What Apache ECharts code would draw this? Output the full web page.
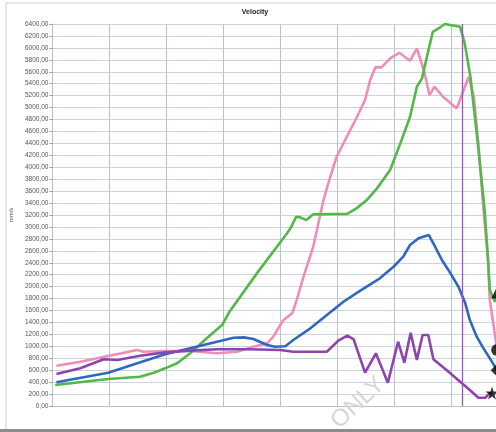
<!DOCTYPE html>
<html><head><meta charset="utf-8">
<script src="https://cdn.jsdelivr.net/npm/echarts@6/dist/echarts.min.js"></script>
<style>html,body{margin:0;padding:0;background:#fff;overflow:hidden}#c{width:508px;height:432px}</style>
</head><body><div id="c"></div>
<script>
// time positions (x-axis units, one per vertical grid line) and velocity values (mm/s)
const greenT = [0.05,0.98,1.54,1.78,1.98,2.19,2.42,2.71,2.98,3.11,3.59,4.12,4.18,4.28,4.35,4.46,4.58,4.97,5.17,5.34,5.52,5.70,5.93,6.11,6.28,6.40,6.49,6.59,6.68,6.78,6.89,7.01,7.16,7.24,7.34,7.47,7.59,7.65,7.68,7.77,7.81];
const greenV = [352,452,490,558,631,715,883,1134,1357,1580,2222,2893,2977,3171,3160,3115,3211,3216,3216,3311,3450,3646,3953,4400,4846,5349,5489,5908,6270,6325,6400,6380,6353,6075,5516,4400,3283,2446,1943,1747,1900];
const pinkT  = [0.07,0.49,0.98,1.49,1.60,1.98,2.42,2.89,3.24,3.53,3.77,3.88,4.00,4.06,4.21,4.29,4.41,4.58,4.76,4.88,4.99,5.17,5.35,5.49,5.58,5.67,5.78,5.93,6.09,6.28,6.40,6.53,6.62,6.71,6.86,7.10,7.21,7.31,7.40,7.48,7.57,7.65,7.68,7.81];
const pinkV  = [675,740,837,938,910,921,921,883,910,993,1050,1161,1357,1440,1553,1775,2166,2668,3450,3841,4176,4511,4846,5126,5461,5673,5673,5824,5918,5784,5991,5600,5209,5349,5181,4986,5265,5516,5181,4400,3283,2446,1775,938];
const blueT  = [0.07,0.98,1.49,1.98,2.42,2.89,3.18,3.36,3.53,3.77,3.91,4.09,4.23,4.53,4.82,5.11,5.40,5.75,5.99,6.16,6.28,6.43,6.61,6.69,6.84,6.99,7.13,7.25,7.33,7.45,7.57,7.68,7.81];
const blueV  = [397,558,715,866,966,1077,1144,1150,1122,1022,993,1000,1105,1301,1524,1747,1930,2139,2333,2501,2697,2809,2864,2725,2446,2223,1998,1720,1440,1161,966,799,600];
const purpleT = [0.07,0.49,0.90,1.14,1.54,1.98,2.42,2.89,3.42,4.00,4.23,4.82,5.02,5.18,5.29,5.49,5.68,5.89,6.07,6.18,6.29,6.40,6.50,6.60,6.69,6.92,7.16,7.33,7.48,7.60,7.68,7.72];
const purpleV = [536,631,782,770,843,899,927,950,950,938,910,910,1094,1178,1117,558,883,390,1077,725,1228,770,1189,1189,782,603,407,268,139,139,212,218];
const yTicks = {min:0, max:6400, step:200};
const cursorT = 7.19;

const zip = (t, v) => t.map((x, i) => [x, v[i]]);
const last = (t, v) => [[t[t.length - 1], v[v.length - 1]]];
const starPath = 'path://M50,0 L61,35 L98,35 L68,57 L79,91 L50,70 L21,91 L32,57 L2,35 L39,35 Z';

const chart = echarts.init(document.getElementById('c'));
const lineSeries = (name, t, v, color) => ({
  name, type: 'line', data: zip(t, v), showSymbol: false, smooth: false,
  lineStyle: {color, width: 2.6}, itemStyle: {color}, z: 3
});
const endMark = (t, v, symbol, size) => ({
  type: 'scatter', data: last(t, v), symbol, symbolSize: size,
  itemStyle: {color: '#000'}, z: 5, clip: false
});

chart.setOption({
  animation: false,
  backgroundColor: '#fff',
  grid: {left: 52, top: 24, right: 0, bottom: 26, containLabel: false},
  xAxis: {
    type: 'value', min: 0, max: 8, interval: 1,
    axisLabel: {show: false}, axisTick: {show: false},
    axisLine: {show: true, lineStyle: {color: '#b7c2cc', width: 1}},
    splitLine: {show: true, lineStyle: {color: '#b7c3cd', width: 1}}
  },
  yAxis: {
    type: 'value', min: yTicks.min, max: yTicks.max, interval: yTicks.step,
    name: 'mm/s', nameLocation: 'middle', nameGap: 38, nameRotate: 90,
    nameTextStyle: {fontSize: 6, color: '#555', fontFamily: 'Liberation Sans'},
    axisLine: {show: true, lineStyle: {color: '#b7c2cc'}},
    axisTick: {show: true, length: 3, lineStyle: {color: '#999'}},
    axisLabel: {
      fontSize: 6.5, color: '#555', margin: 4, fontFamily: 'Liberation Sans',
      formatter: v => v.toFixed(2).replace('.', ',')
    },
    splitLine: {show: true, lineStyle: {color: '#cdd3dc', width: 1}}
  },
  graphic: [
    {type: 'rect', shape: {x: 6, y: 3, width: 520, height: 427}, style: {fill: 'none', stroke: '#d0d0d0', lineWidth: 1}, z: -1},
    {type: 'rect', shape: {x: 0, y: 429, width: 508, height: 3}, style: {fill: '#8c8c8c'}, z: 10},
    {type: 'text', x: 255, y: 12, style: {text: 'Velocity', fontSize: 7, fontWeight: 'bold', fill: '#222', align: 'center', verticalAlign: 'middle', fontFamily: 'Liberation Sans'}, z: 10},
    {type: 'text', x: 358, y: 403, rotation: 0.75, style: {text: 'ONLY', fontSize: 24, fill: '#d6d6d6', align: 'center', verticalAlign: 'middle', fontFamily: 'Liberation Sans'}, z: 1}
  ],
  series: [
    lineSeries('pink', pinkT, pinkV, '#f08cba'),
    lineSeries('green', greenT, greenV, '#52b848'),
    lineSeries('blue', blueT, blueV, '#2f68be'),
    Object.assign(lineSeries('purple', purpleT, purpleV, '#8e44ad'), {
      markLine: {silent: true, symbol: 'none', label: {show: false},
        lineStyle: {color: '#a050c8', width: 1.3, type: 'solid'}, data: [{xAxis: cursorT}]}
    }),
    endMark(greenT, greenV, 'triangle', 12),
    endMark(pinkT, pinkV, 'circle', 12),
    endMark(blueT, blueV, 'diamond', 13),
    endMark(purpleT, purpleV, starPath, 13)
  ]
});
</script></body></html>
